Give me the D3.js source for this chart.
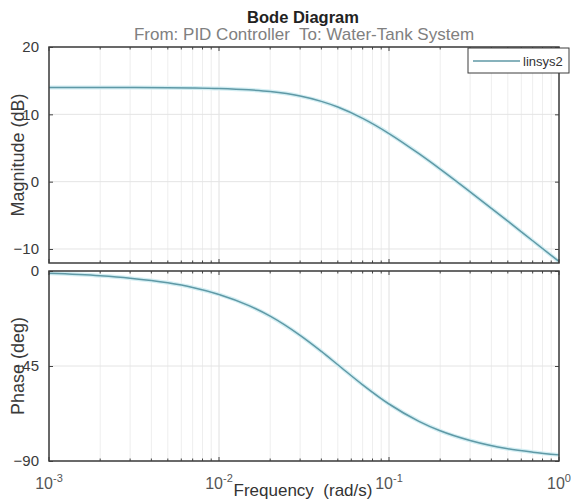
<!DOCTYPE html>
<html>
<head>
<meta charset="utf-8">
<script src="https://cdn.jsdelivr.net/npm/d3@7/dist/d3.min.js"></script>
<style>
  body { margin: 0; background: #fff; }
  svg { font-family: "Liberation Sans", Arial, sans-serif; }
</style>
</head>
<body>
<div id="chart"></div>
<script>
// values
var freq = [0.001, 0.002, 0.003, 0.005, 0.007, 0.01, 0.015, 0.02, 0.03, 0.04, 0.05, 0.07, 0.1, 0.15, 0.2, 0.3, 0.5, 0.7, 1];
var magDb = [14.0, 14.0, 13.98, 13.96, 13.92, 13.84, 13.64, 13.38, 12.71, 11.92, 11.08, 9.4, 7.15, 4.15, 1.86, -1.51, -5.87, -8.78, -11.86];
var phaseDeg = [-1.1, -2.25, -3.4, -5.6, -7.8, -11.1, -16.4, -21.4, -30.5, -38.1, -44.4, -53.9, -63.0, -71.2, -75.7, -80.3, -84.2, -85.8, -87.1];
var magTicks = [20, 10, 0, -10];
var phaseTicks = [0, -45, -90];
var decadeExps = [-3, -2, -1, 0];
var seriesName = 'linsys2';

var width = 571, height = 500;
var left = 49, right = 559;

var svg = d3.select('#chart').append('svg')
    .attr('width', width)
    .attr('height', height);

var x = d3.scaleLog().domain([1e-3, 1]).range([left, right]);

var minors = [];
[-3, -2, -1].forEach(function(e) {
    for (var k = 2; k <= 9; k++) minors.push(k * Math.pow(10, e));
});
var majors = decadeExps.map(function(e) { return Math.pow(10, e); });

var panels = [
    { top: 47, bottom: 263, domain: [-12.08, 20], ticks: magTicks, values: magDb, label: 'Magnitude (dB)' },
    { top: 271, bottom: 461, domain: [-90, 0], ticks: phaseTicks, values: phaseDeg, label: 'Phase (deg)' }
];

panels.forEach(function(p) {
    var y = d3.scaleLinear().domain(p.domain).range([p.bottom, p.top]);
    var g = svg.append('g');

    // grid
    g.selectAll('.vgrid')
        .data(minors.concat(majors))
        .enter().append('line')
        .attr('x1', function(d) { return x(d); })
        .attr('x2', function(d) { return x(d); })
        .attr('y1', p.top).attr('y2', p.bottom)
        .attr('stroke', function(d) { return majors.indexOf(d) >= 0 ? '#e0e0e0' : '#eeeeee'; })
        .attr('stroke-width', 1);

    g.selectAll('.hgrid')
        .data(p.ticks)
        .enter().append('line')
        .attr('x1', left).attr('x2', right)
        .attr('y1', function(d) { return y(d); })
        .attr('y2', function(d) { return y(d); })
        .attr('stroke', '#e4e4e4')
        .attr('stroke-width', 1);

    // curve, with a pale halo like the reference
    var line = d3.line()
        .x(function(d, i) { return x(freq[i]); })
        .y(function(d) { return y(d); })
        .curve(d3.curveMonotoneX);

    g.append('path')
        .datum(p.values)
        .attr('fill', 'none')
        .attr('stroke', '#d3eef3')
        .attr('stroke-width', 4)
        .attr('d', line);
    g.append('path')
        .datum(p.values)
        .attr('fill', 'none')
        .attr('stroke', '#5f99a6')
        .attr('stroke-width', 1.5)
        .attr('d', line);

    // y axes, ticks inside
    g.append('g')
        .attr('transform', 'translate(' + left + ',0)')
        .call(d3.axisLeft(y).tickValues(p.ticks).tickSize(-4).tickPadding(10).tickFormat(d3.format('d')))
        .call(function(a) {
            a.select('.domain').remove();
            a.selectAll('line').attr('stroke', '#444');
            a.selectAll('text').attr('font-size', 15).attr('fill', '#3a3a3a')
                .attr('font-family', '"Liberation Sans", Arial, sans-serif');
        });
    g.append('g')
        .attr('transform', 'translate(' + right + ',0)')
        .call(d3.axisRight(y).tickValues(p.ticks).tickSize(-4).tickFormat(''))
        .call(function(a) {
            a.select('.domain').remove();
            a.selectAll('line').attr('stroke', '#444');
        });

    // x ticks on top and bottom edges
    [[p.top, 1], [p.bottom, -1]].forEach(function(e) {
        g.selectAll(null)
            .data(minors.concat(majors))
            .enter().append('line')
            .attr('x1', function(d) { return x(d); })
            .attr('x2', function(d) { return x(d); })
            .attr('y1', e[0])
            .attr('y2', function(d) { return e[0] + e[1] * (majors.indexOf(d) >= 0 ? 4 : 2.5); })
            .attr('stroke', '#444');
    });

    // box
    g.append('rect')
        .attr('x', left).attr('y', p.top)
        .attr('width', right - left).attr('height', p.bottom - p.top)
        .attr('fill', 'none')
        .attr('stroke', '#3c3c3c')
        .attr('stroke-width', 1.5);

    g.append('text')
        .attr('transform', 'translate(24,' + ((p.top + p.bottom) / 2) + ') rotate(-90)')
        .attr('text-anchor', 'middle')
        .attr('font-size', 18)
        .attr('fill', '#3a3a3a')
        .text(p.label);
});

// x tick labels 10^n
var xl = svg.selectAll('.xlab')
    .data(decadeExps)
    .enter().append('text')
    .attr('x', function(d) { return x(Math.pow(10, d)); })
    .attr('y', 489)
    .attr('text-anchor', 'middle')
    .attr('fill', '#555')
    .attr('font-size', 16);
xl.append('tspan').text('10');
xl.append('tspan')
    .attr('dy', -7)
    .attr('font-size', 11)
    .text(function(d) { return d === 0 ? '0' : '-' + Math.abs(d); });

svg.append('text')
    .attr('x', 303).attr('y', 496)
    .attr('text-anchor', 'middle')
    .attr('font-size', 17)
    .attr('fill', '#333')
    .style('white-space', 'pre')
    .text('Frequency  (rad/s)');

// titles
svg.append('text')
    .attr('x', 303).attr('y', 23)
    .attr('text-anchor', 'middle')
    .attr('font-size', 16.5)
    .attr('font-weight', 'bold')
    .attr('fill', '#222')
    .text('Bode Diagram');
svg.append('text')
    .attr('x', 304).attr('y', 40)
    .attr('text-anchor', 'middle')
    .attr('font-size', 17)
    .attr('fill', '#808080')
    .style('white-space', 'pre')
    .text('From: PID Controller  To: Water-Tank System');

// legend
var lg = svg.append('g');
lg.append('rect')
    .attr('x', 468).attr('y', 48)
    .attr('width', 101).attr('height', 25)
    .attr('fill', '#fff')
    .attr('stroke', '#3c3c3c')
    .attr('stroke-width', 1);
lg.append('line')
    .attr('x1', 473).attr('x2', 520)
    .attr('y1', 61).attr('y2', 61)
    .attr('stroke', '#5f99a6')
    .attr('stroke-width', 1.5);
lg.append('text')
    .attr('x', 523).attr('y', 65.5)
    .attr('font-size', 13)
    .attr('fill', '#333')
    .text(seriesName);
</script>
</body>
</html>
